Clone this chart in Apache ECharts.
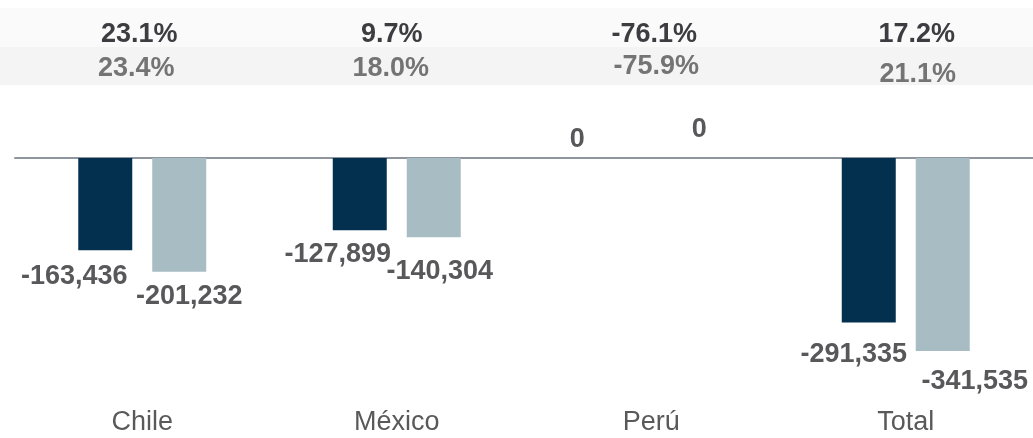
<!DOCTYPE html>
<html>
<head>
<meta charset="utf-8">
<script src="https://cdn.jsdelivr.net/npm/echarts@6/dist/echarts.min.js"></script>
<style>
  html, body { margin: 0; padding: 0; background: #ffffff; }
  #chart { width: 1033px; height: 438px; }
</style>
</head>
<body>
<div id="chart"></div>
<script>
// Categories and bar values (negative results)
const categories = ['Chile', 'México', 'Perú', 'Total'];
const currentValues = [-163436, -127899, 0, -291335];
const previousValues = [-201232, -140304, 0, -341535];

// Percentage rows shown in the bands above the bars
const growthCurrent = [23.1, 9.7, -76.1, 17.2];
const growthPrevious = [23.4, 18.0, -75.9, 21.1];

// Label placement tweaks per bar: [dx, dy]
const currentLabelOffsets = [[-31, 12.5], [-22, 10.5], [-37, -4.5], [-15, 18]];
const previousLabelOffsets = [[10, 11], [6, 20.5], [11, -14.5], [32, 17]];
// Nudges for the percentage rows: [dx, dy] per category
const growthCurrentShift = [[-3, 0], [-5, 0], [3, 0], [11, 0]];
const growthPreviousShift = [[-6, 0], [-6, 0], [5, -2], [12, 6]];

const FONT = '"Liberation Sans", Arial, sans-serif';
const fmtNum = v => v.toLocaleString('en-US');
const fmtPct = v => v.toFixed(1) + '%';

function barData(values, offsets) {
  return values.map((v, i) => ({
    value: v,
    label: v === 0
      ? { position: 'top', distance: 0, offset: offsets[i] }
      : { position: 'bottom', distance: 0, offset: offsets[i] }
  }));
}

// Rich-text padding that moves a token by [dx, dy] without changing its line height
function shiftPadding(s) {
  const dx = s[0], dy = s[1];
  return [dy > 0 ? 2 * dy : 0, dx < 0 ? -2 * dx : 0, dy < 0 ? -2 * dy : 0, dx > 0 ? 2 * dx : 0];
}

const rich = {};
categories.forEach((c, i) => {
  rich['a' + i] = { fontFamily: FONT, fontSize: 27, fontWeight: 'bold', color: '#3c3c41', lineHeight: 34, padding: shiftPadding(growthCurrentShift[i]) };
  rich['b' + i] = { fontFamily: FONT, fontSize: 27, fontWeight: 'bold', color: '#747474', lineHeight: 34, padding: shiftPadding(growthPreviousShift[i]) };
});

const labelStyle = {
  show: true,
  formatter: p => fmtNum(p.value),
  fontFamily: FONT,
  fontSize: 27,
  fontWeight: 'bold',
  color: '#58585b',
  lineHeight: 28
};

const chart = echarts.init(document.getElementById('chart'), null, { renderer: 'canvas' });

chart.setOption({
  animation: false,
  backgroundColor: '#ffffff',
  graphic: [
    { type: 'rect', z: 0, shape: { x: 0, y: 8, width: 1033, height: 39 }, style: { fill: '#fafafa' } },
    { type: 'rect', z: 0, shape: { x: 0, y: 47, width: 1033, height: 38 }, style: { fill: '#f4f4f4' } }
  ],
  grid: [
    { left: 15, top: 158, width: 1022, height: 232 },
    { left: 15, top: 88, width: 1022, height: 10 }
  ],
  xAxis: [
    {
      type: 'category', gridIndex: 0, data: categories, position: 'bottom',
      axisLine: { show: false, onZero: false }, axisTick: { show: false },
      axisLabel: { interval: 0, margin: 24, fontFamily: FONT, fontSize: 27, color: '#595959', lineHeight: 30 }
    },
    {
      type: 'category', gridIndex: 0, data: categories, position: 'top',
      axisLine: { show: true, onZero: false, lineStyle: { color: '#8e959f', width: 2 } },
      axisTick: { show: false }, axisLabel: { show: false }
    },
    {
      type: 'category', gridIndex: 1, data: categories, position: 'top',
      axisLine: { show: false }, axisTick: { show: false },
      axisLabel: {
        interval: 0, margin: 2,
        formatter: (v, i) => '{a' + i + '|' + fmtPct(growthCurrent[i]) + '}\n{b' + i + '|' + fmtPct(growthPrevious[i]) + '}',
        rich: rich
      }
    }
  ],
  yAxis: [
    { type: 'value', gridIndex: 0, min: -400000, max: 0, show: false },
    { type: 'value', gridIndex: 1, show: false }
  ],
  series: [
    {
      name: 'Periodo actual', type: 'bar', xAxisIndex: 0, yAxisIndex: 0,
      barWidth: 54, barGap: '37%',
      itemStyle: { color: '#04304f' },
      label: labelStyle,
      data: barData(currentValues, currentLabelOffsets)
    },
    {
      name: 'Periodo anterior', type: 'bar', xAxisIndex: 0, yAxisIndex: 0,
      barWidth: 54, barGap: '37%',
      itemStyle: { color: '#a7bcc3' },
      label: labelStyle,
      data: barData(previousValues, previousLabelOffsets)
    }
  ]
});
</script>
</body>
</html>
